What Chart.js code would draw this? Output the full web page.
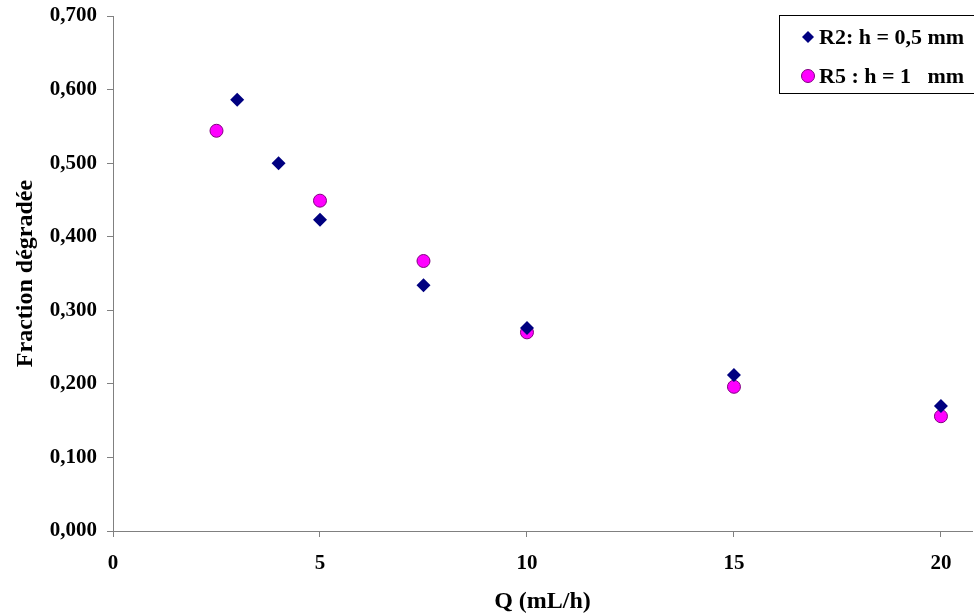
<!DOCTYPE html>
<html>
<head>
<meta charset="utf-8">
<script src="https://cdn.jsdelivr.net/npm/chart.js@4"></script>
<style>
  body { margin: 0; background: #fff; }
  #wrap { width: 974px; height: 616px; }
</style>
</head>
<body>
<div id="wrap"><canvas id="myChart"></canvas></div>
<script>
// data
const qR2 = [3, 4, 5, 7.5, 10, 15, 20]
const fracR2 = [0.586, 0.500, 0.423, 0.334, 0.276, 0.212, 0.170]
const qR5 = [2.5, 5, 7.5, 10, 15, 20]
const fracR5 = [0.544, 0.449, 0.367, 0.270, 0.196, 0.156]
const xTicks = [0, 5, 10, 15, 20]
const labels = ["R2: h = 0,5 mm", "R5 : h = 1   mm"]

const font = "'Liberation Serif', 'Times New Roman', serif"

const toPoints = (xs, ys) => xs.map((x, i) => ({x: x, y: ys[i]}))

// legend box drawn inside the plot, top right
const boxLegend = {
    id: 'boxLegend',
    afterDraw(chart) {
        const ctx = chart.ctx
        const x0 = 779, y0 = 15, w = 200, h = 79
        ctx.save()
        ctx.fillStyle = '#fff'
        ctx.fillRect(x0, y0, w, h)
        ctx.strokeStyle = '#000'
        ctx.lineWidth = 1
        ctx.strokeRect(x0 + 0.5, y0 + 0.5, w - 1, h - 1)
        ctx.font = "bold 22px " + font
        ctx.textBaseline = 'middle'
        ctx.textAlign = 'left'
        // diamond
        let cy = 37
        ctx.fillStyle = '#000080'
        ctx.beginPath()
        ctx.moveTo(808, cy - 6); ctx.lineTo(814, cy); ctx.lineTo(808, cy + 6); ctx.lineTo(802, cy)
        ctx.closePath(); ctx.fill()
        ctx.fillStyle = '#000'
        ctx.fillText(labels[0], 819, cy + 1)
        // circle
        cy = 76
        ctx.fillStyle = '#ff00ff'
        ctx.strokeStyle = '#800080'
        ctx.beginPath(); ctx.arc(808, cy, 6.5, 0, Math.PI * 2); ctx.fill(); ctx.stroke()
        ctx.fillStyle = '#000'
        ctx.fillText(labels[1], 819, cy + 1)
        ctx.restore()
    }
}

const ctx = document.getElementById('myChart').getContext('2d')
new Chart(ctx, {
    type: 'scatter',
    data: {
        datasets: [
            {label: labels[0], data: toPoints(qR2, fracR2), pointStyle: 'rectRot', pointRadius: 7,
             backgroundColor: '#000080', borderColor: '#000080', borderWidth: 0},
            {label: labels[1], data: toPoints(qR5, fracR5), pointStyle: 'circle', pointRadius: 6.5,
             backgroundColor: '#ff00ff', borderColor: '#800080', borderWidth: 1}
        ]
    },
    options: {
        responsive: true,
        maintainAspectRatio: false,
        animation: false,
        layout: {autoPadding: false, padding: {top: 16, right: 2, left: 0, bottom: 0}},
        plugins: {legend: {display: false}, tooltip: {enabled: false}},
        scales: {
            x: {
                type: 'linear', min: 0, max: 20.75,
                afterBuildTicks: (s) => { s.ticks = xTicks.map(v => ({value: v})) },
                afterFit: (s) => { s.height = 85 },
                ticks: {color: '#000', font: {family: font, size: 21, weight: 'bold'}, padding: 14, maxRotation: 0},
                grid: {drawOnChartArea: false, drawTicks: true, tickLength: 6, color: '#808080'},
                border: {color: '#808080', width: 1},
                title: {display: true, text: 'Q (mL/h)', color: '#000', font: {family: font, size: 24, weight: 'bold'}, padding: {top: 0, bottom: 0}}
            },
            y: {
                min: 0, max: 0.7,
                afterFit: (s) => { s.width = 113; s.paddingTop = 0; s.paddingBottom = 0 },
                ticks: {stepSize: 0.1, color: '#000', font: {family: font, size: 21, weight: 'bold'}, padding: 10,
                        callback: (v) => v.toFixed(3).replace('.', ',')},
                grid: {drawOnChartArea: false, drawTicks: true, tickLength: 6, color: '#808080'},
                border: {color: '#808080', width: 1},
                title: {display: true, text: 'Fraction dégradée', color: '#000', font: {family: font, size: 24, weight: 'bold'}, padding: {top: 11, bottom: 0}}
            }
        }
    },
    plugins: [boxLegend]
})
</script>
</body>
</html>
